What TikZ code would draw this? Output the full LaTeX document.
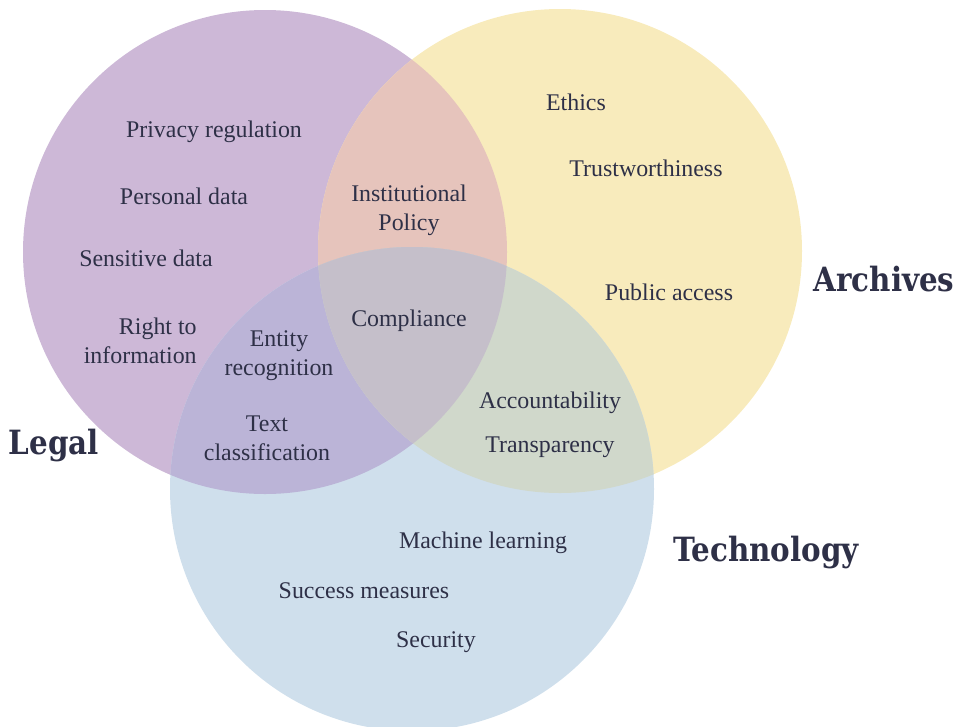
\documentclass[tikz,border=0pt]{standalone}
\usepackage{fontspec}
\setmainfont{Liberation Serif}
\newfontfamily\titlefont[FakeStretch=0.88]{DejaVu Serif}

\definecolor{ink}{HTML}{2E3047}
\definecolor{legalc}{HTML}{CDB8D7}
\definecolor{archc}{HTML}{F8EBBC}
\definecolor{techc}{HTML}{CFDFEC}
\definecolor{legarch}{HTML}{E6C4BC}
\definecolor{legtech}{HTML}{BBB4D7}
\definecolor{archtech}{HTML}{D0D8CB}
\definecolor{allthree}{HTML}{C5BFCA}

\tikzset{
  item/.style={text=ink, font=\fontsize{13.6}{16.4}\selectfont, align=center, inner sep=0pt},
  heading/.style={text=ink, font=\titlefont\bfseries\fontsize{19}{22}\selectfont, inner sep=0pt},
}

\begin{document}
\begin{tikzpicture}[x=0.02cm,y=-0.02cm]
\useasboundingbox (0,0) rectangle (964,727);

% the three sets
\def\legalset{(265,252) circle (242)}
\def\archset{(560,251) circle (242)}
\def\techset{(412,489) circle (242)}
\fill[legalc] \legalset;
\fill[archc] \archset;
\fill[techc] \techset;

% overlaps
\begin{scope}
  \clip \legalset;
  \fill[legarch] \archset;
  \fill[legtech] \techset;
\end{scope}
\begin{scope}
  \clip \archset;
  \fill[archtech] \techset;
  \clip \legalset;
  \fill[allthree] \techset;
\end{scope}

% set names
\node[heading] (legal) at (54,446) {Legal};
\node[heading] (archives) at (884,279) {Archives};
\node[heading] (technology) at (766,553) {Technology};

% legal only
\node[item] (privacy) at (214,132) {Privacy regulation};
\node[item] (personal) at (184,196) {Personal data};
\node[item] (sensitive) at (146,258) {Sensitive data};
\node[item, align=right, anchor=east] (right) at (197,341) {Right to\\information};

% archives only
\node[item] (ethics) at (576,102) {Ethics};
\node[item] (trust) at (646,168) {Trustworthiness};
\node[item] (public) at (669,292) {Public access};

% technology only
\node[item] (ml) at (483,543) {Machine learning};
\node[item] (success) at (364,591) {Success measures};
\node[item] (security) at (436,642) {Security};

% overlaps
\node[item] (policy) at (409,210) {Institutional\\Policy};
\node[item] (compliance) at (409,321) {Compliance};
\node[item] (entity) at (279,356) {Entity\\recognition};
\node[item] (textclass) at (267,438) {Text\\classification};
\node[item] (account) at (550,403) {Accountability};
\node[item] (transp) at (550,447) {Transparency};
\end{tikzpicture}
\end{document}
